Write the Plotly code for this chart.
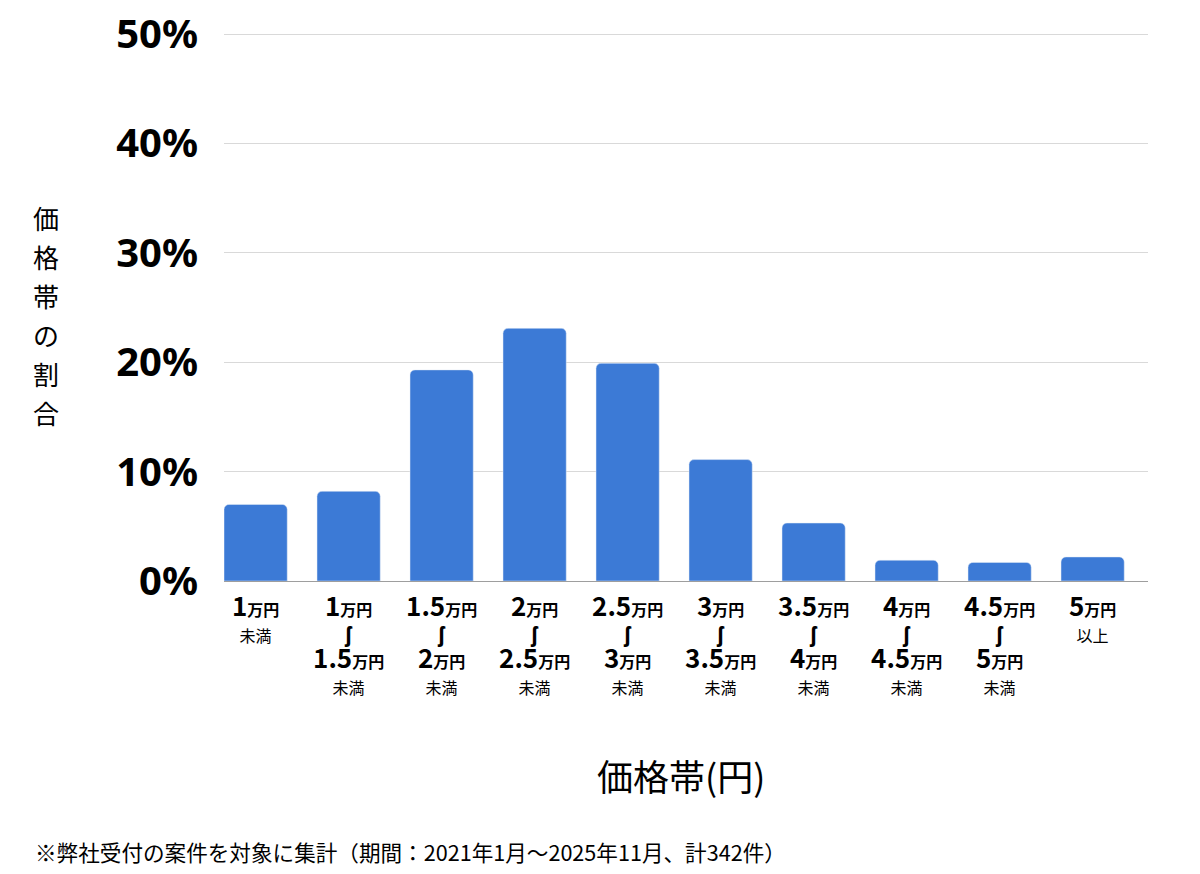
import plotly.graph_objects as go

# 価格帯ごとの割合 (%)、計342件
lower = ["", "1", "1.5", "2", "2.5", "3", "3.5", "4", "4.5", "5"]
upper = ["1", "1.5", "2", "2.5", "3", "3.5", "4", "4.5", "5", ""]
share = [7.0, 8.2, 19.3, 23.1, 19.9, 11.1, 5.3, 1.9, 1.7, 2.2]
y_ticks = [0, 10, 20, 30, 40, 50]
y_title = "価格帯の割合"
x_title = "価格帯(円)"
note = "※弊社受付の案件を対象に集計（期間：2021年1月～2025年11月、計342件）"


def price(v):
    return "<b><span style='font-size:26px'>" + v + "</span><span style='font-size:16px'>万円</span></b>"


small = "<span style='font-size:16px'>{}</span>"
wave = "<b><span style='font-size:21px;font-family:Noto Sans'>ʃ</span></b>"
labels = []
for lo, hi in zip(lower, upper):
    if lo == "":
        labels.append(price(hi) + "<br>" + small.format("未満"))
    elif hi == "":
        labels.append(price(lo) + "<br>" + small.format("以上"))
    else:
        labels.append(price(lo) + "<br>" + wave + "<br>" + price(hi) + "<br>" + small.format("未満"))

cats = list(range(len(share)))

# page body adds an 8px offset, so work in screen pixels and shift back
OFF = 8
W, H = 1200, 874
YMAX = 50.1
top_px = 581 - 547 * YMAX / 50
L, R = 224 - OFF, 1200 - (1148 - OFF)
T, B = top_px - OFF, 874 - (581 - OFF)
pw, ph = W - L - R, H - T - B


def px(x):
    return (x - OFF - L) / pw


def py(y):
    return (H - B - (y - OFF)) / ph


unit = 93.0
gap = 0.32
x0 = -0.5 * (1 - gap)

fig = go.Figure()
fig.add_trace(go.Bar(x=cats, y=share, marker=dict(color="#3c7ad6", cornerradius=5),
                     hoverinfo="skip"))

fig.update_layout(
    width=W, height=H,
    margin=dict(l=L, r=R, t=T, b=B),
    plot_bgcolor="white", paper_bgcolor="white",
    bargap=gap, showlegend=False,
    font=dict(family="Noto Sans CJK JP", color="#000000"),
)
fig.update_xaxes(
    tickmode="array", tickvals=cats, ticktext=labels,
    tickfont=dict(size=20, family="Noto Sans CJK JP", color="#000000"),
    showline=True, linecolor="#9e9e9e", linewidth=1,
    showgrid=False, ticks="outside", ticklen=10, tickcolor="rgba(0,0,0,0)",
    range=[x0, x0 + pw / unit],
    automargin=False, ticklabeloverflow="allow",
)
fig.update_yaxes(
    range=[0, YMAX], tickvals=y_ticks, ticktext=[f"{v}%" for v in y_ticks],
    tickfont=dict(size=40, family="Noto Sans", color="#000000", weight="bold"),
    showgrid=True, gridcolor="#d9d9d9", gridwidth=1, zeroline=False,
    ticks="outside", ticklen=17, tickcolor="rgba(0,0,0,0)",
    automargin=False, ticklabeloverflow="allow",
)

for i, ch in enumerate(y_title):
    fig.add_annotation(text=ch, xref="paper", yref="paper",
                       x=px(46), y=py(217 + 39 * i), xanchor="center", yanchor="middle",
                       showarrow=False,
                       font=dict(size=26, family="Noto Sans CJK JP", color="#000000"))
fig.add_annotation(text=x_title, xref="paper", yref="paper",
                   x=px(681), y=py(775), xanchor="center", yanchor="middle", showarrow=False,
                   font=dict(size=36, family="Noto Sans CJK JP", color="#000000"))
fig.add_annotation(text=note, xref="paper", yref="paper",
                   x=px(33), y=py(852), xanchor="left", yanchor="middle", showarrow=False,
                   font=dict(size=21.6, family="Noto Sans CJK JP", color="#000000"))

fig.write_html("out.html")
